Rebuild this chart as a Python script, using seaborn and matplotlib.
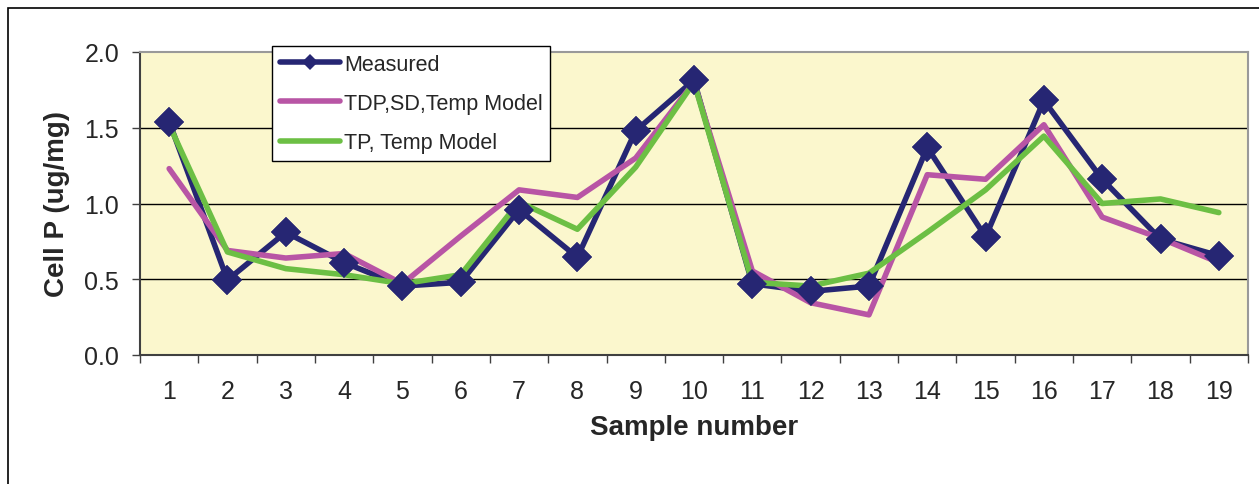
import matplotlib
matplotlib.use("Agg")
import matplotlib.pyplot as plt
from matplotlib.patches import Rectangle
from matplotlib.ticker import FixedLocator
import seaborn as sns

# valores
amostras = list(range(1, 20))
medido = [1.54, 0.495, 0.81, 0.61, 0.455, 0.48, 0.96, 0.645, 1.48, 1.815,
          0.47, 0.42, 0.455, 1.37, 0.78, 1.68, 1.16, 0.765, 0.655]
modelo_tdp = [1.23, 0.69, 0.64, 0.67, 0.47, 0.785, 1.09, 1.04, 1.30, 1.80,
              0.555, 0.345, 0.265, 1.19, 1.16, 1.52, 0.91, 0.77, 0.61]
modelo_tp = [1.52, 0.68, 0.57, 0.53, 0.47, 0.53, 1.01, 0.83, 1.24, 1.80,
             0.48, 0.455, 0.54, 0.81, 1.09, 1.445, 1.00, 1.03, 0.94]
nomes = ["Measured", "TDP,SD,Temp Model", "TP, Temp Model"]
cores = ["#262673", "#B855A5", "#6CBF44"]
y_ticks = [0.0, 0.5, 1.0, 1.5, 2.0]

sns.set_style("white")
plt.rcParams["font.family"] = ["Liberation Sans", "DejaVu Sans"]

fig = plt.figure(figsize=(12.59, 4.85), dpi=100)
ax = fig.add_axes([140 / 1259, 1 - 356 / 485, (1248 - 140) / 1259, (356 - 53) / 485])
ax.set_facecolor("#FBF7CD")

sns.lineplot(x=amostras, y=medido, color=cores[0], lw=4, marker="D",
             markersize=15, markeredgewidth=0, label=nomes[0], ax=ax, zorder=3)
sns.lineplot(x=amostras, y=modelo_tdp, color=cores[1], lw=4, label=nomes[1], ax=ax, zorder=4)
sns.lineplot(x=amostras, y=modelo_tp, color=cores[2], lw=4, label=nomes[2], ax=ax, zorder=5)
# marcadores por cima
ax.plot(amostras, medido, ls="none", marker="D", markersize=15, color=cores[0],
        markeredgewidth=0, zorder=6)

ax.set_xlim(0.5, 19.5)
ax.set_ylim(0, 2)
ax.set_xticks(amostras)
ax.set_xticklabels([str(a) for a in amostras])
ax.xaxis.set_minor_locator(FixedLocator([a + 0.5 for a in range(0, 20)]))
ax.set_yticks(y_ticks)
ax.set_yticklabels([f"{v:.1f}" for v in y_ticks])
ax.tick_params(axis="x", which="major", length=0, pad=17, labelsize=18)
ax.tick_params(axis="x", which="minor", length=6, width=1, color="#404040", direction="out", bottom=True)
ax.tick_params(axis="y", which="major", length=6, width=1, color="#404040", direction="out",
               left=True, pad=9, labelsize=18)

ax.grid(False)
for v in y_ticks[1:-1]:
    ax.axhline(v, color="#000000", lw=1, zorder=1)

for lado in ["left", "bottom"]:
    ax.spines[lado].set_color("#404040")
    ax.spines[lado].set_linewidth(1.5)
for lado in ["top", "right"]:
    ax.spines[lado].set_color("#999999")
    ax.spines[lado].set_linewidth(1.5)

ax.set_xlabel("Sample number", fontsize=20, fontweight="bold", labelpad=8)
ax.set_ylabel("Cell P (ug/mg)", fontsize=20, fontweight="bold", labelpad=10)

leg = ax.legend(loc="upper left", bbox_to_anchor=(272 / 1259, 1 - 47 / 485),
                bbox_transform=fig.transFigure, fontsize=15.5, frameon=True, fancybox=False,
                framealpha=1, edgecolor="black", handlelength=2.8, labelspacing=0.85,
                borderaxespad=0, handletextpad=0.2, borderpad=0.35)
leg.get_frame().set_linewidth(1)
leg.set_zorder(10)
leg.legend_handles[0].set_markersize(8)

fig.add_artist(Rectangle((8 / 1259, -0.2), 1.2, 1.2 - 9 / 485, transform=fig.transFigure,
                         fill=False, edgecolor="black", lw=1.2, clip_on=False))

fig.savefig("out.png", dpi=100)
